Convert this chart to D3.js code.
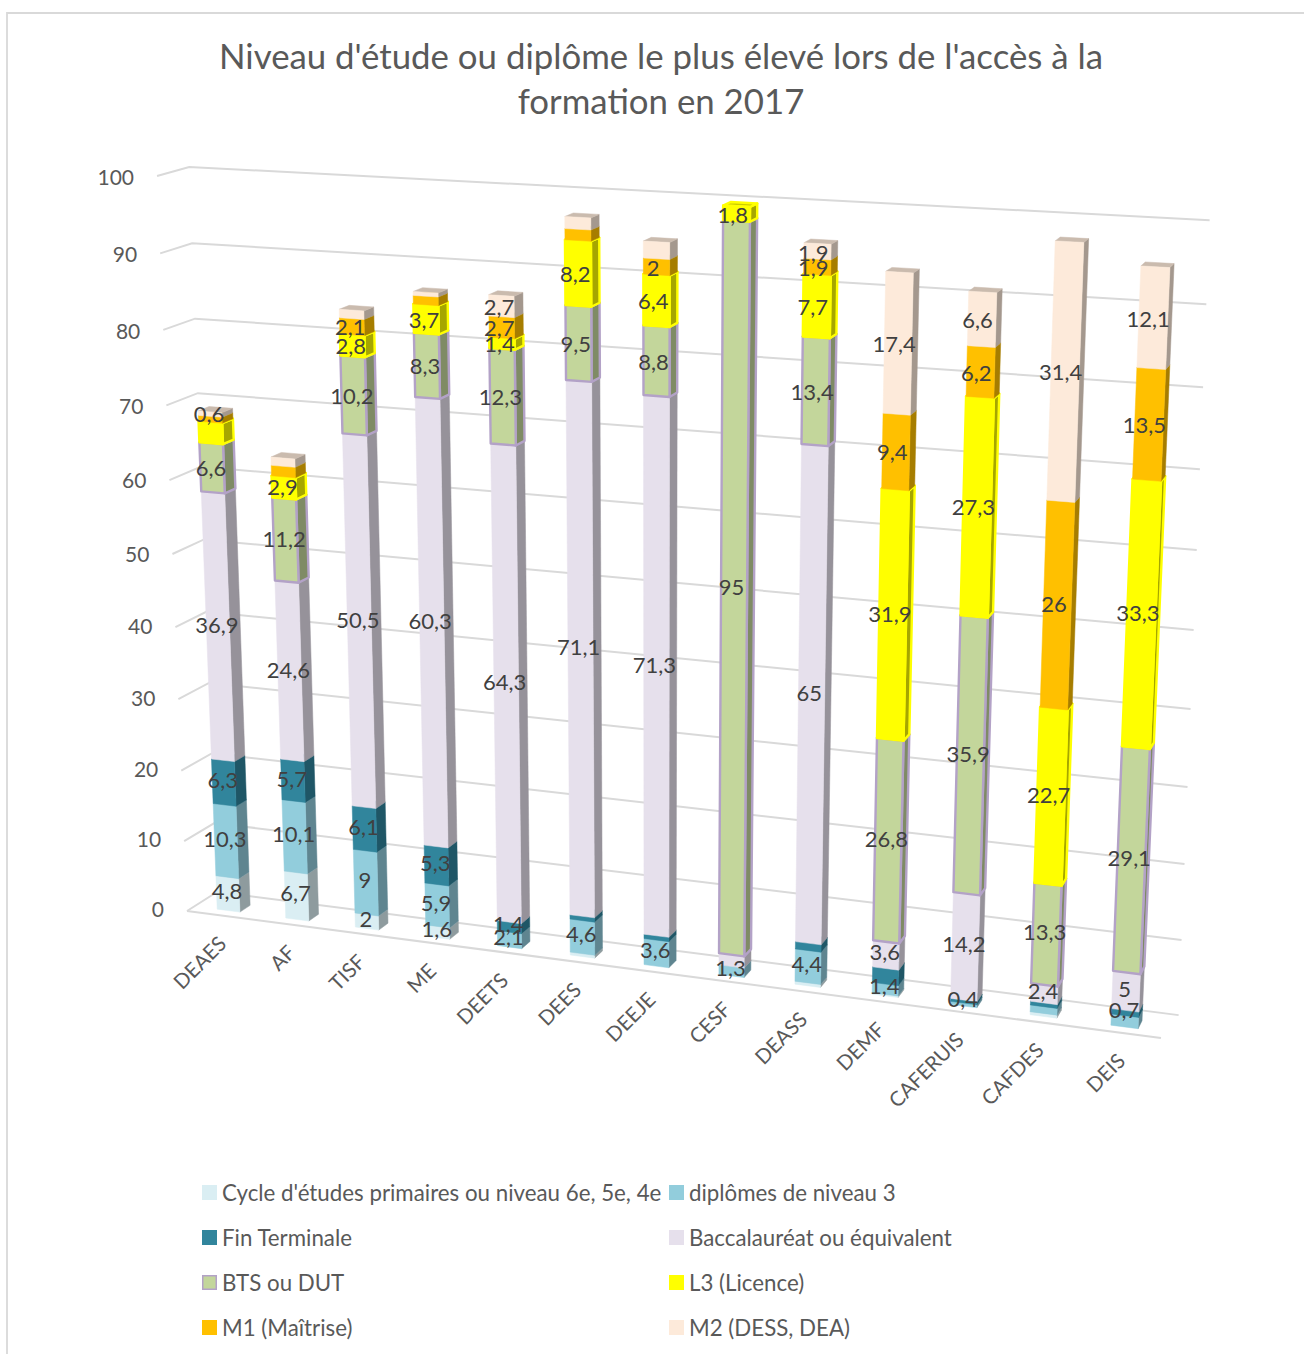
<!DOCTYPE html>
<html><head><meta charset="utf-8">
<script src="https://cdn.jsdelivr.net/npm/d3@7"></script>
<style>html,body{margin:0;padding:0;background:#fff}svg{display:block}text{font-family:Lato,"Noto Sans",sans-serif}</style>
</head><body><svg id="c" width="1304" height="1354"></svg>
<script>
const categories=["DEAES","AF","TISF","ME","DEETS","DEES","DEEJE","CESF","DEASS","DEMF","CAFERUIS","CAFDES","DEIS"];
const seriesNames=["Cycle d'études primaires ou niveau 6e, 5e, 4e","diplômes de niveau 3","Fin Terminale","Baccalauréat ou équivalent","BTS ou DUT","L3 (Licence)","M1 (Maîtrise)","M2 (DESS, DEA)"];
const cycle=[4.8,6.7,2,1.6,0,0.4,0,0,0.4,0.2,0,0.4,0];
const dip3=[10.3,10.1,9,5.9,2.1,4.6,3.6,1.3,4.4,1.4,0.4,0.9,1.5];
const finT=[6.3,5.7,6.1,5.3,1.4,0.6,0.6,0,1,2.1,0.4,0.5,0.7];
const bac=[36.9,24.6,50.5,60.3,64.3,71.1,71.3,1.6,65,3.6,14.2,2.4,5];
const bts=[6.6,11.2,10.2,8.3,12.3,9.5,8.8,95,13.4,26.8,35.9,13.3,29.1];
const l3=[2.8,2.9,2.8,3.7,1.4,8.2,6.4,1.8,7.7,31.9,27.3,22.7,33.3];
const m1=[0.8,1.4,2.1,1.1,2.7,1.4,2,0,1.9,9.4,6.2,26,13.5];
const m2=[0.6,1.1,1.1,0.5,2.7,1.5,2.1,0,1.9,17.4,6.6,31.4,12.1];
// segments read from the picture that carry no data label in the reference: [series index, category index]
const unlabelled=[[3,7],[0,5],[2,5],[2,6],[0,8],[2,8],[0,9],[2,9],[1,10],[1,11],[0,11],[2,11],[1,12],[5,0],[6,0],[6,1],[7,1],[7,2],[6,3],[7,3],[6,5],[7,5],[7,6]];
const yTicks=[0,10,20,30,40,50,60,70,80,90,100];
const frontCols=["#DAEEF3","#92CDDC","#31859C","#E6E0EC","#C3D69B","#FFFF00","#FFC000","#FDEADA"];
const sideCols=["#8E9B9E","#5F8590","#1F5666","#96929A","#7F8B65","#A6A600","#A67D00","#A4988E"];
const topCols=["#AFBEC2","#75A4B0","#276B7D","#B8B3BD","#9CAB7C","#CCCC00","#CC9A00","#CABBAE"];
const outline={4:"#B3A2C7",5:"#FFFF00"};
const seriesVals=[cycle,dip3,finT,bac,bts,l3,m1,m2];

const svg=d3.select("#c");
const uScale=d3.scaleBand().domain(categories).range([0,1]).paddingInner(0.667).paddingOuter(0.333);
const tScale=d3.scaleLinear().domain([0,100]).range([0,1]);
const D0=0.25,D1=0.6;
// oblique perspective of the Excel 3D chart box
function P(u,d,t){
  const X=187+866*u+33.1*d-38.7*t, Y=911+30.5*u-6.07*d-744.8*t, W=1-0.093*u+0.0145*d-0.0556*t;
  return [X/W,Y/W];
}
// bars lean a little less to the left than the walls, towards the right of the chart
function B(u,d,t){const p=P(u,d,t);return [p[0]+5*u*t-7*u*(d-D0),p[1]];}
const line=d3.line();
const poly=pts=>line(pts)+"Z";

// frame
svg.append("path").attr("d","M7,1354V13H1304").attr("fill","none").attr("stroke","#d9d9d9").attr("stroke-width",1.8);

// title
svg.append("g").selectAll("text").data(["Niveau d'étude ou diplôme le plus élevé lors de l'accès à la","formation en 2017"]).join("text")
 .attr("x",661).attr("y",(d,i)=>55.5+i*45).attr("text-anchor","middle").attr("dominant-baseline","central")
 .attr("font-size",34.8).attr("fill","#595959").text(d=>d);

// grid
const grid=svg.append("g").attr("fill","none").attr("stroke","#d9d9d9").attr("stroke-width",2);
yTicks.forEach(v=>{const t=tScale(v);
  grid.append("path").attr("d",line([P(0,0,t),P(0,1,t),P(1,1,t)]));
});
grid.append("path").attr("d",line([P(0,0,0),P(1,0,0)]));

// y labels
svg.append("g").selectAll("text").data(yTicks).join("text")
 .attr("x",v=>P(0,0,tScale(v))[0]-23).attr("y",v=>P(0,0,tScale(v))[1]-3+4*tScale(v))
 .attr("text-anchor","end").attr("dominant-baseline","central").attr("font-size",21).attr("fill","#595959").text(v=>v);

// bars
const bars=svg.append("g");
const labels=[];
const isHidden=(s,c)=>unlabelled.some(a=>a[0]===s&&a[1]===c);
categories.forEach((cat,c)=>{
  const uL=uScale(cat),uR=uL+uScale.bandwidth();
  let acc=0;
  seriesVals.forEach((vals,s)=>{
    const v=vals[c]; if(!v) return;
    const t0=tScale(acc),t1=tScale(acc+v); acc+=v;
    const st=outline[s];
    const face=(pts,fill)=>bars.append("path").attr("d",poly(pts)).attr("fill",fill)
       .attr("stroke",st||fill).attr("stroke-width",st?2.4:0.5).attr("stroke-linejoin","round");
    face([B(uR,D0,t0),B(uR,D1,t0),B(uR,D1,t1),B(uR,D0,t1)],sideCols[s]);
    face([B(uL,D0,t1),B(uR,D0,t1),B(uR,D1,t1),B(uL,D1,t1)],topCols[s]);
    face([B(uL,D0,t0),B(uR,D0,t0),B(uR,D0,t1),B(uL,D0,t1)],frontCols[s]);
    if(!isHidden(s,c)){
      const a=P((uL+uR)/2,D0,t0),b=P((uL+uR)/2,D0,t1);
      labels.push({v,p:[(a[0]+b[0])/2-1,(a[1]+b[1])/2-3.5+4.5*(t0+t1)/2]});
    }
  });
});
// data labels
svg.append("g").selectAll("text").data(labels).join("text")
 .attr("x",d=>d.p[0]).attr("y",d=>d.p[1]).attr("text-anchor","middle").attr("dominant-baseline","central")
 .attr("font-size",22).attr("fill","#404040").text(d=>String(d.v).replace(".",","));

// category labels
svg.append("g").selectAll("text").data(categories).join("text")
 .attr("transform",c=>{const p=P(uScale(c)+uScale.bandwidth()/2,0,0);return `translate(${p[0]+1},${p[1]+24}) rotate(-45)`;})
 .attr("text-anchor","end").attr("dominant-baseline","central").attr("font-size",20.5).attr("fill","#595959").text(c=>c);

// legend
const lg=svg.append("g").selectAll("g").data(seriesNames).join("g")
 .attr("transform",(d,i)=>`translate(${i%2?669:202},${1192+45*Math.floor(i/2)})`);
lg.append("rect").attr("x",(d,i)=>i===4?0.75:0).attr("y",(d,i)=>i===4?-6.25:-7).attr("width",(d,i)=>i===4?13.5:15).attr("height",(d,i)=>i===4?13.5:15)
 .attr("fill",(d,i)=>frontCols[i]).attr("stroke",(d,i)=>i===4?outline[4]:"none").attr("stroke-width",1.5);
lg.append("text").attr("x",20).attr("y",0).attr("dominant-baseline","central").attr("font-size",22.3).attr("fill","#595959").text(d=>d);
</script></body></html>
